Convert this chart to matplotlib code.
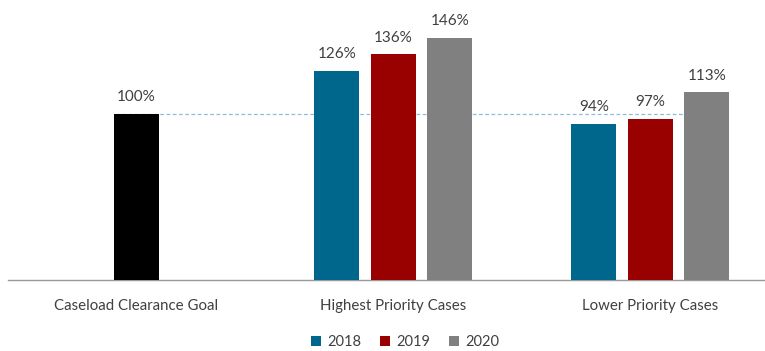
import matplotlib.pyplot as plt
import numpy as np
from matplotlib.patches import Patch

plt.rcParams['font.family'] = ['Lato', 'DejaVu Sans']

categories = ['Caseload Clearance Goal', 'Highest Priority Cases', 'Lower Priority Cases']
years = ['2018', '2019', '2020']
goal = 100
values = {
    '2018': [126, 94],
    '2019': [136, 97],
    '2020': [146, 113],
}
colors = {'2018': '#00678c', '2019': '#990000', '2020': '#808080'}

fig = plt.figure(figsize=(7.65, 3.51), dpi=100)
ax = fig.add_axes([8 / 765, 71 / 351, 757 / 765, 265.6 / 351])

width = 0.175
step = 0.22
x = np.arange(len(categories))
text_color = '#404040'

# goal bar (centre slot of first group)
b = ax.bar(x[0], goal, width, color='black', zorder=3)
ax.bar_label(b, labels=[f'{goal}%'], padding=7, fontsize=11, color=text_color)

for i, yr in enumerate(years):
    pos = x[1:] + (i - 1) * step
    bars = ax.bar(pos, values[yr], width, color=colors[yr], zorder=3)
    ax.bar_label(bars, labels=[f'{v}%' for v in values[yr]], padding=7,
                 fontsize=11, color=text_color)

# 100% reference line
ax.hlines(goal, x[0] - 0.08, x[2] + step + 0.07, colors='#8fbcd6',
          linestyles=(0, (3, 2)), linewidth=0.9, zorder=2)

ax.set_xlim(-0.5, 2.446)
ax.set_ylim(0, 160)
ax.set_xticks(x)
ax.set_xticklabels(categories, fontsize=10.8, color=text_color)
ax.tick_params(axis='x', length=0, pad=14)
ax.set_yticks([])
for s in ['top', 'right', 'left']:
    ax.spines[s].set_visible(False)
ax.spines['bottom'].set_color('#999999')
ax.spines['bottom'].set_linewidth(1)

handles = [Patch(facecolor=colors[yr], label=yr) for yr in years]
fig.legend(handles=handles, loc='center', bbox_to_anchor=(405 / 765, 1 - 342 / 351),
           ncol=3, frameon=False, fontsize=10.5, handlelength=0.7, handleheight=0.7,
           handletextpad=0.4, columnspacing=1.3, labelcolor=text_color,
           borderpad=0.2)

fig.savefig('out.png', dpi=100)
